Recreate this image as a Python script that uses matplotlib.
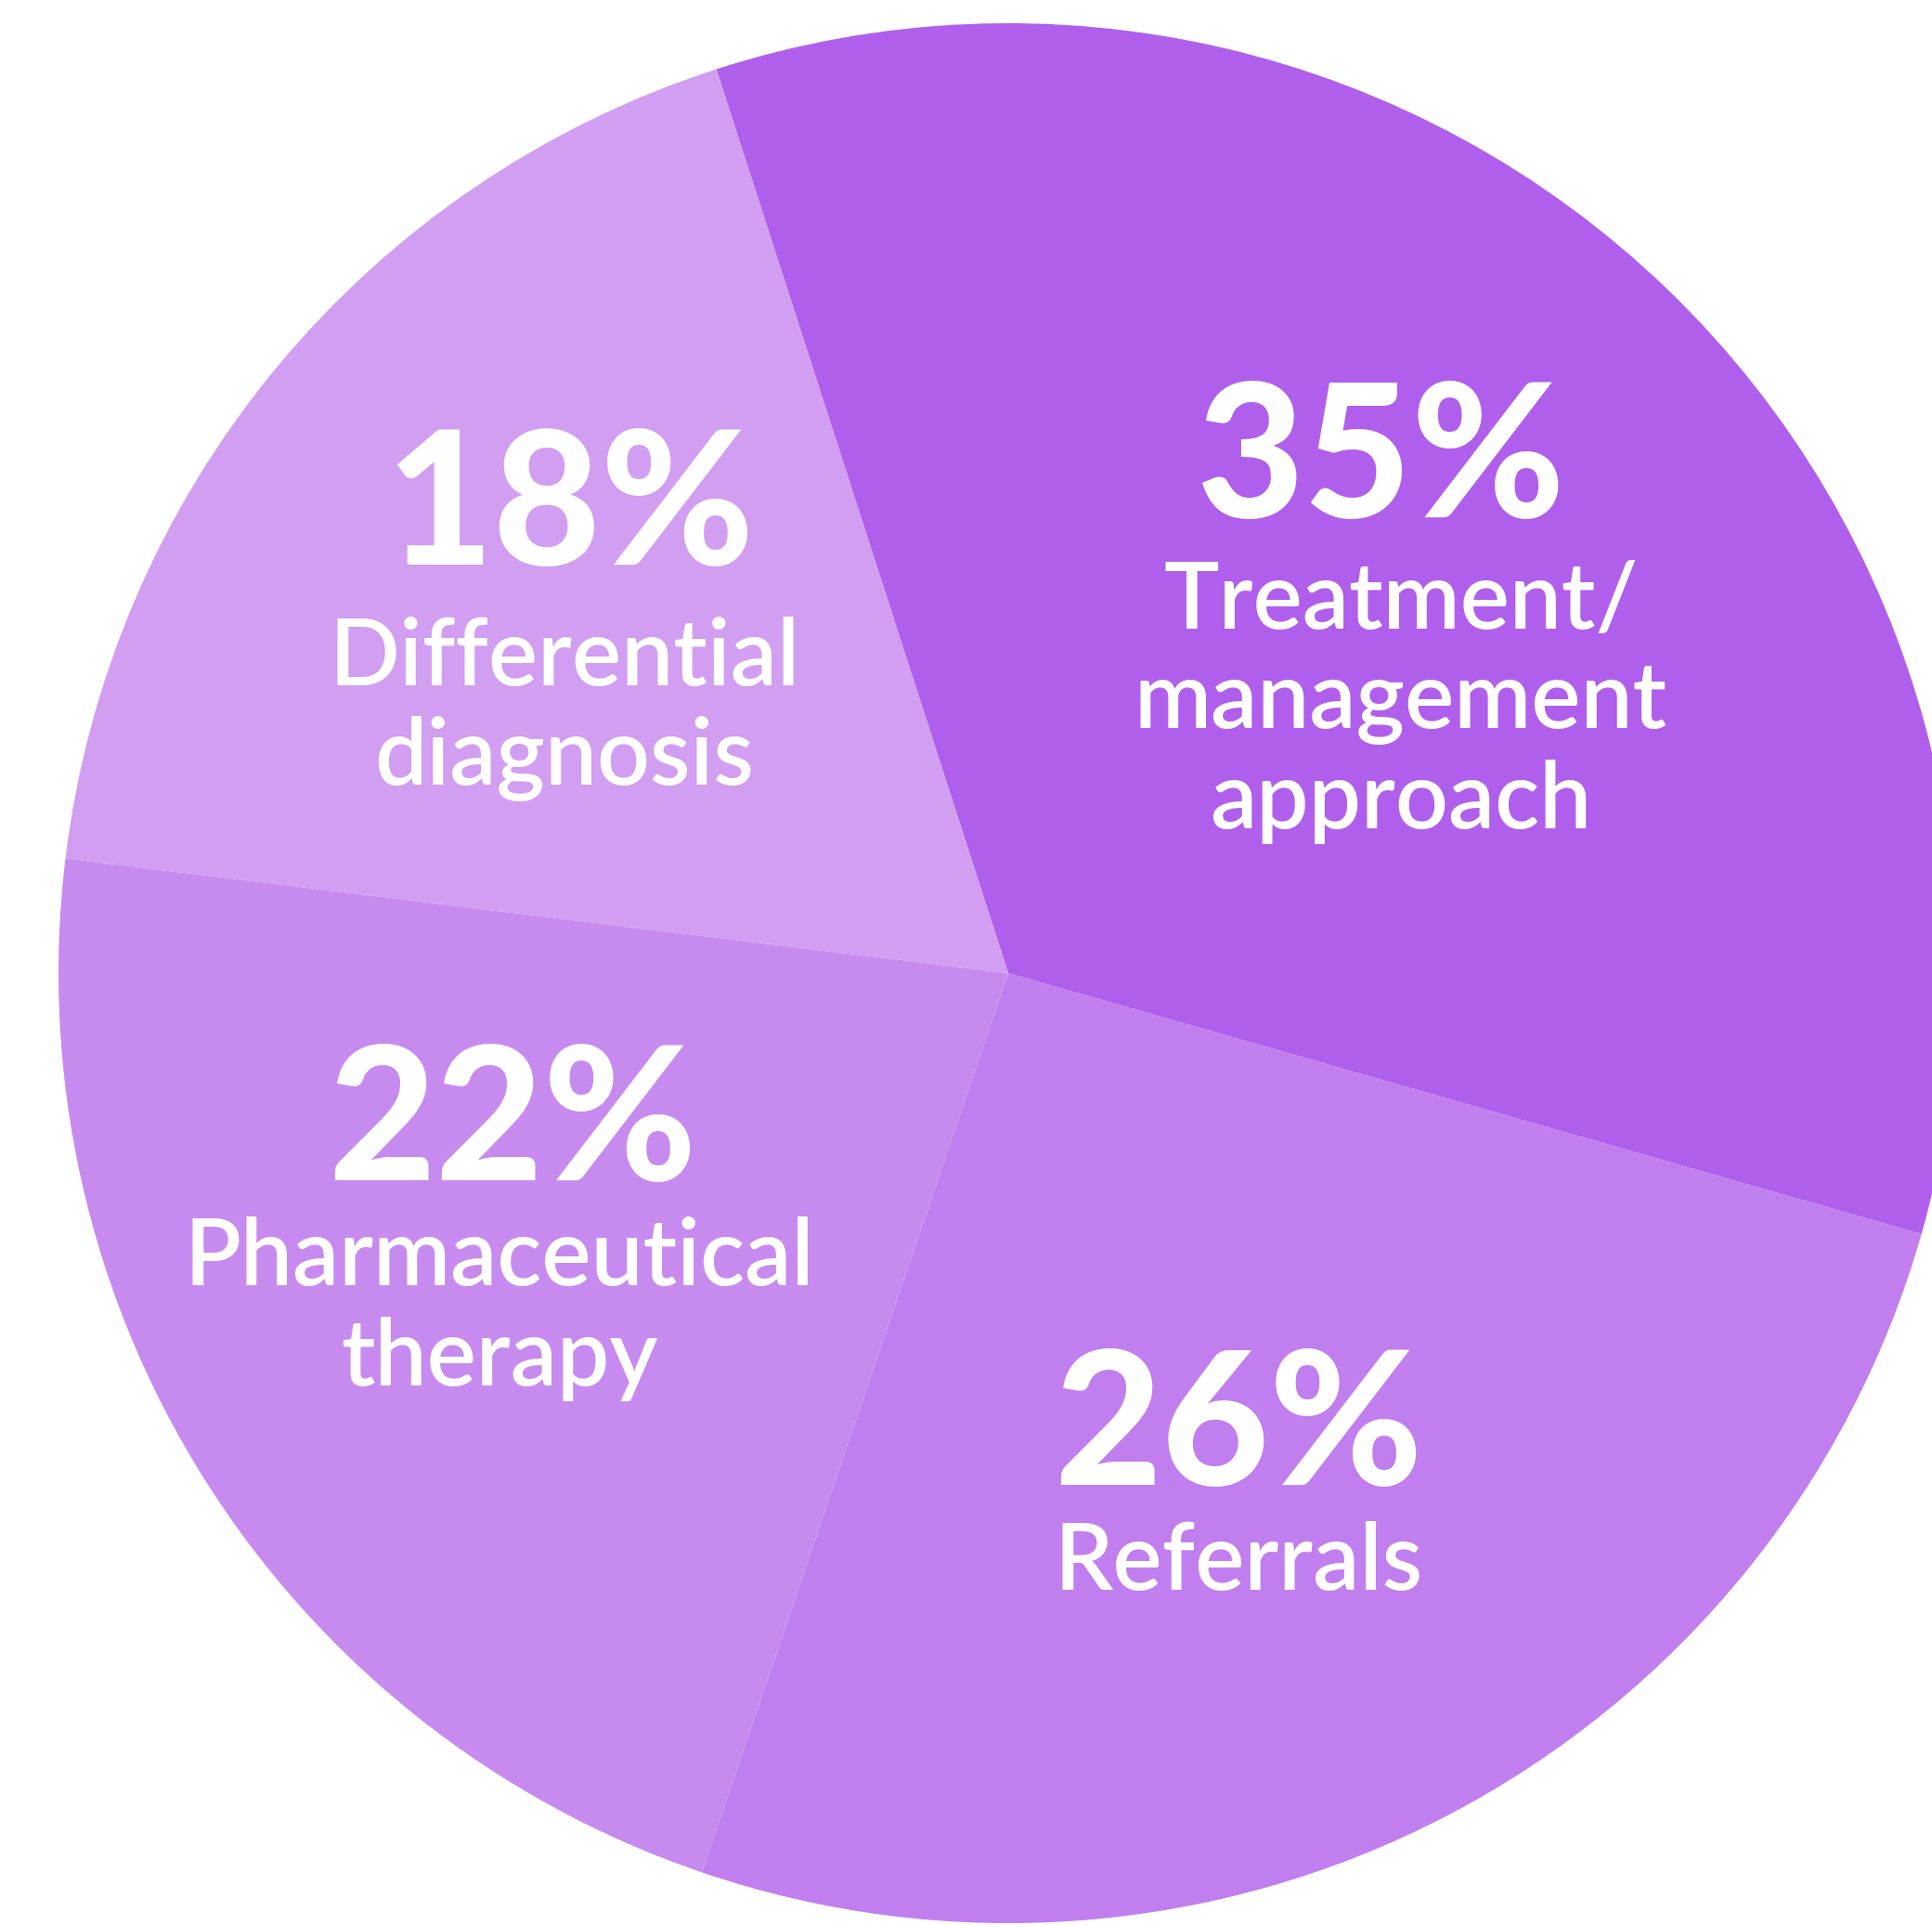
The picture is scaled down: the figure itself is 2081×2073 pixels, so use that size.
import matplotlib
matplotlib.use("Agg")
import matplotlib.pyplot as plt

categories = ["Treatment/\nmanagement\napproach", "Referrals", "Pharmaceutical\ntherapy", "Differential\ndiagnosis"]
values = [34.4, 25.8, 21.7, 18.1]
pct_labels = ["35%", "26%", "22%", "18%"]
colors = ["#B05FEC", "#C17EEE", "#C78BF0", "#D19EF2"]

W, H = 2081, 2073
cx, cy, r = 1086.0, 1048.0, 1023.0

fig = plt.figure(figsize=(W / 100, H / 100), dpi=100)
fig.patch.set_facecolor("white")
ax = fig.add_axes([0, 0, 1, 1])
ax.pie(values, colors=colors, startangle=107.9, counterclock=False, radius=1.0,
       wedgeprops=dict(linewidth=0, antialiased=True))
ax.set_aspect("auto")
ax.set_xlim(-cx / r, (W - cx) / r)
ax.set_ylim(-(H - cy) / r, cy / r)
ax.axis("off")

def fx(px):
    return px / W

def fy(py):
    return 1 - py / H

# percent labels: (center x px, baseline y px)
pct_pos = [(1487, 557), (1334, 1599), (552, 1271), (614, 608)]
# category label lines: (center x px, list of baselines)
lab_pos = [(1509, [677, 784, 892]), (1334, [1712]), (538, [1384, 1492]), (608, [738, 845])]

for txt, (x, y) in zip(pct_labels, pct_pos):
    fig.text(fx(x), fy(y), txt, ha="center", va="baseline", color="white",
             fontsize=144, fontweight="black", family="Lato")

for cat, (x, ys) in zip(categories, lab_pos):
    for line, y in zip(cat.split("\n"), ys):
        fig.text(fx(x), fy(y), line, ha="center", va="baseline", color="white",
                 fontsize=72, fontweight="semibold", family="Lato")

fig.savefig("out.png", dpi=100, facecolor="white")
